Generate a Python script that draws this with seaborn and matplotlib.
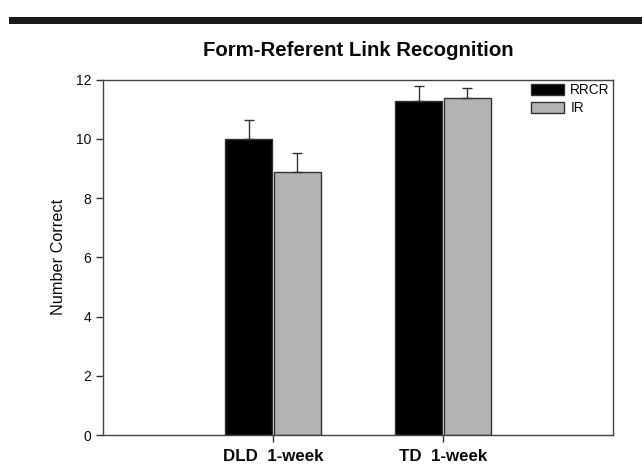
import matplotlib
matplotlib.use("Agg")
import matplotlib.pyplot as plt
import seaborn as sns
import pandas as pd
from matplotlib.patches import Rectangle

groups = ["DLD  1-week", "TD  1-week"]
conditions = ["RRCR", "IR"]
rrcr_means = [9.98, 11.27]
ir_means = [8.87, 11.38]
rrcr_err = [0.67, 0.50]
ir_err = [0.64, 0.35]
title = "Form-Referent Link Recognition"
ylabel = "Number Correct"
yticks = [0, 2, 4, 6, 8, 10, 12]

rows = []
for g, m, e in zip(groups, rrcr_means, rrcr_err):
    rows.append({"group": g, "cond": "RRCR", "mean": m, "err": e})
for g, m, e in zip(groups, ir_means, ir_err):
    rows.append({"group": g, "cond": "IR", "mean": m, "err": e})
df = pd.DataFrame(rows)

sns.set_style("white")
plt.rcParams["font.family"] = ["Liberation Sans", "DejaVu Sans"]
plt.rcParams["text.color"] = "#0a0a0a"
plt.rcParams["axes.labelcolor"] = "#0a0a0a"
plt.rcParams["xtick.color"] = "#333333"
plt.rcParams["ytick.color"] = "#333333"
plt.rcParams["xtick.labelcolor"] = "#0a0a0a"
plt.rcParams["ytick.labelcolor"] = "#0a0a0a"

fig = plt.figure(figsize=(6.42, 4.68), dpi=100)
ax = fig.add_axes([0.1604, 0.0705, 0.7944, 0.7595])

sns.barplot(data=df, x="group", y="mean", hue="cond", hue_order=conditions,
            order=groups, palette=["#000000", "#b3b3b3"], width=0.575, gap=0.04,
            edgecolor="#333333", linewidth=1.0, errorbar=None, ax=ax, legend=False)

errs = {"RRCR": rrcr_err, "IR": ir_err}
means = {"RRCR": rrcr_means, "IR": ir_means}
for cont, cond in zip(ax.containers, conditions):
    xs = [b.get_x() + b.get_width() / 2 for b in cont]
    ax.errorbar(xs, means[cond], yerr=[[0] * len(xs), errs[cond]], fmt="none",
                ecolor="#333333", elinewidth=1.0, capsize=3.8, capthick=1.0, zorder=1)

ax.set_xlim(-1, 2)
ax.set_ylim(0, 12)
ax.set_yticks(yticks)
ax.set_yticklabels([str(t) for t in yticks], fontsize=10)
ax.set_xlabel("")
ax.set_ylabel(ylabel, fontsize=11.7, labelpad=7)
for lbl in ax.get_xticklabels():
    lbl.set_fontweight("bold")
    lbl.set_fontsize(12.2)
ax.tick_params(axis="both", direction="out", length=5, width=1,
               bottom=True, left=True)
ax.tick_params(axis="x", pad=5)
for s in ax.spines.values():
    s.set_visible(True)
    s.set_color("#444444")
    s.set_linewidth(1.0)

ax.set_title(title, fontsize=14.7, fontweight="bold", pad=17)

handles = [Rectangle((0, 0), 1, 1, facecolor="#000000", edgecolor="#333333", linewidth=1.0),
           Rectangle((0, 0), 1, 1, facecolor="#b3b3b3", edgecolor="#333333", linewidth=1.0)]
ax.legend(handles, conditions, loc="upper left", bbox_to_anchor=(0.839, 0.99),
          frameon=False, fontsize=9.8, handlelength=2.45, handleheight=0.8,
          labelspacing=0.3, handletextpad=0.45, borderpad=0, borderaxespad=0)

fig.patches.append(Rectangle((9 / 642, 1 - 24 / 468), 633 / 642, 7 / 468,
                             transform=fig.transFigure, facecolor="#1a1a1a",
                             edgecolor="none"))

fig.savefig("out.png", dpi=100)
